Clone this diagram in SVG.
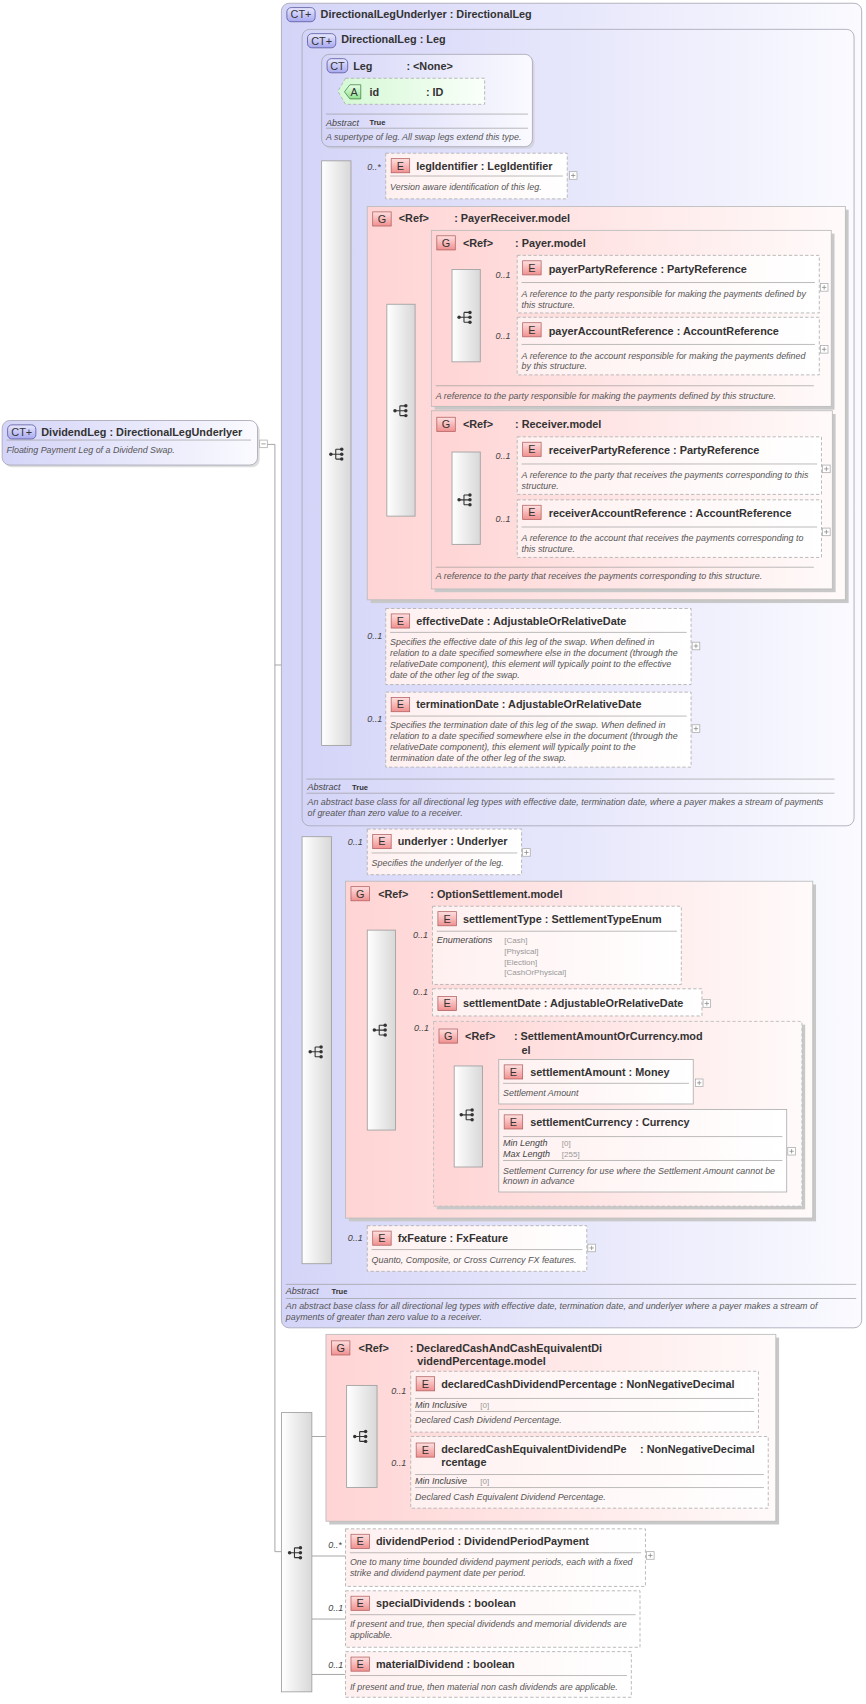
<svg xmlns="http://www.w3.org/2000/svg" xmlns:xlink="http://www.w3.org/1999/xlink" width="866" height="1704" viewBox="0 0 866 1704">
<defs>
<linearGradient id="lav" x1="0" y1="0" x2="1" y2="0"><stop offset="0" stop-color="#d4d4f8"/><stop offset="1" stop-color="#fafaff"/></linearGradient>
<linearGradient id="pink" x1="0" y1="0" x2="1" y2="0"><stop offset="0" stop-color="#ffd4d4"/><stop offset="1" stop-color="#fffafa"/></linearGradient>
<linearGradient id="elg" x1="0" y1="0" x2="1" y2="0"><stop offset="0" stop-color="#fff0f0"/><stop offset="1" stop-color="#ffffff"/></linearGradient>
<linearGradient id="grn" x1="0" y1="0" x2="1" y2="0"><stop offset="0" stop-color="#d4f8d4"/><stop offset="1" stop-color="#fafffa"/></linearGradient>
<linearGradient id="gry" x1="0" y1="0" x2="1" y2="0"><stop offset="0" stop-color="#ffffff"/><stop offset="1" stop-color="#d8d8d8"/></linearGradient>
<linearGradient id="badE" x1="0" y1="0" x2="0" y2="1"><stop offset="0" stop-color="#ffe0e0"/><stop offset="1" stop-color="#f09090"/></linearGradient>
<linearGradient id="badC" x1="0" y1="0" x2="0" y2="1"><stop offset="0" stop-color="#e8e8ff"/><stop offset="1" stop-color="#a8a8f0"/></linearGradient>
<linearGradient id="badA" x1="0" y1="0" x2="0" y2="1"><stop offset="0" stop-color="#e8ffe8"/><stop offset="1" stop-color="#90e090"/></linearGradient>
<symbol id="seq" viewBox="0 0 16 12" overflow="visible">
<circle cx="1.5" cy="6" r="1.6" fill="#333"/><path d="M1.5 6H6M6 1.5V10.5M6 1.5H11M6 6H11M6 10.5H11" stroke="#333" fill="none" stroke-width="1"/>
<circle cx="11.5" cy="1.5" r="1.6" fill="#333"/><circle cx="11.5" cy="6" r="1.6" fill="#333"/><circle cx="11.5" cy="10.5" r="1.6" fill="#333"/>
</symbol>
<symbol id="plus" overflow="visible"><rect x="0" y="0" width="7" height="7" fill="#fff" stroke="#aaa" stroke-width="0.7"/><path d="M1.5 3.5H5.5M3.5 1.5V5.5" stroke="#888" stroke-width="0.7"/></symbol>
</defs>
<style>
text{font-family:"Liberation Sans",Arial,sans-serif;fill:#333}
.t{font-size:10px;font-weight:bold}
.d{font-size:8.2px;font-style:italic;fill:#555}
.m{font-size:8.3px;font-style:italic;fill:#444}
.bt{font-size:10px;text-anchor:middle;fill:#333}
.k{font-size:7px;font-weight:bold}
.v{font-size:7.4px;fill:#999}
.ct{fill:url(#lav);stroke:#a8a8b8;stroke-width:0.8}
.el{fill:url(#elg);stroke:#b0b0b0;stroke-width:0.8;stroke-dasharray:3,2}
.els{fill:url(#elg);stroke:#b0b0b0;stroke-width:0.8}
.gp{fill:url(#pink);stroke:#bcbcbc;stroke-width:0.8}
.gpd{fill:url(#pink);stroke:#bcbcbc;stroke-width:0.8;stroke-dasharray:3,2}
.sh{fill:#c8c8c8}
.sq{fill:url(#gry);stroke:#a0a0a0;stroke-width:0.8}
.be{fill:url(#badE);stroke:#b06060;stroke-width:0.7}
.bc{fill:url(#badC);stroke:#6060a0;stroke-width:0.8}
.sep{stroke:#999;stroke-width:0.6}
.c{stroke:#999;stroke-width:0.8;fill:none}
</style>
<rect width="866" height="1704" fill="#fff"/>
<g transform="scale(1.0866)">
<g id="connectors">
<path class="c" d="M245 409H253V1428H259M253 612H270M270 393V967H278M270 393H287M287 84V417H296M287 84H306"/>
<path class="c" d="M323 160H355M323 377H338M323 595H355M323 671H355"/>
<path class="c" d="M382 377H397V293M382 377H397M382 293H397M382 459H397"/>
<path class="c" d="M305 785H338M305 967H318M305 1148H338"/>
<path class="c" d="M442 262H476M442 319H476M442 429H476M442 487H476"/>
<path class="c" d="M364 870H398M364 923H398M364 1025H399M364 948H338"/>
<path class="c" d="M444 996H459M444 1048H459"/>
<path class="c" d="M287 1322H300M347 1289H378M347 1357H378M287 1432H318M287 1490H318M287 1541H318"/>
<path class="c" d="M338 948H318"/>
</g>

<g id="DirectionalLegUnderlyer">
<rect class="ct" x="259" y="3" width="534" height="1219" rx="7"/>
<rect class="bc" x="264" y="7" width="26" height="13" rx="4"/><text class="bt" x="277" y="17">CT+</text>
<text class="t" x="295" y="17">DirectionalLegUnderlyer : DirectionalLeg</text>
<line class="sep" x1="263" y1="1182" x2="788" y2="1182"/>
<text class="m" x="263" y="1191">Abstract</text><text class="k" x="305" y="1191">True</text>
<line class="sep" x1="263" y1="1195" x2="788" y2="1195"/>
<text class="d" x="263" y="1205">An abstract base class for all directional leg types with effective date, termination date, and underlyer where a payer makes a stream of</text>
<text class="d" x="263" y="1215">payments of greater than zero value to a receiver.</text>
</g>

<g id="DirectionalLeg">
<rect class="ct" x="278" y="27" width="508" height="733" rx="7"/>
<rect class="bc" x="283" y="31" width="26" height="13" rx="4"/><text class="bt" x="296" y="41">CT+</text>
<text class="t" x="314" y="40">DirectionalLeg : Leg</text>
<line class="sep" x1="282" y1="717" x2="768" y2="717"/>
<text class="m" x="283" y="727">Abstract</text><text class="k" x="324" y="727">True</text>
<line class="sep" x1="282" y1="730" x2="768" y2="730"/>
<text class="d" x="283" y="741">An abstract base class for all directional leg types with effective date, termination date, where a payer makes a stream of payments</text>
<text class="d" x="283" y="751">of greater than zero value to a receiver.</text>
</g>

<g id="Leg">
<rect x="298" y="52" width="194" height="85" rx="7" class="sh" opacity="0.5"/>
<rect x="296" y="50" width="194" height="85" rx="7" fill="url(#lav)" stroke="#a8a8b8" stroke-width="0.8"/>
<rect class="bc" x="301" y="54" width="19" height="13" rx="4"/><text class="bt" x="310.5" y="64">CT</text>
<text class="t" x="325" y="64">Leg</text><text class="t" x="374" y="64">: &lt;None&gt;</text>
<line class="sep" x1="300" y1="105" x2="486" y2="105"/>
<text class="m" x="300" y="116">Abstract</text><text class="k" x="340" y="115">True</text>
<line class="sep" x1="300" y1="118" x2="486" y2="118"/>
<text class="d" x="300" y="129">A supertype of leg. All swap legs extend this type.</text>
</g>
<g id="attr-id">
<path d="M318 72H446V96H318L311 84Z" fill="url(#grn)" stroke="#b0b0b0" stroke-width="0.8" stroke-dasharray="3,2"/>
<path d="M322 78H332V91H322L317 84.5Z" fill="url(#badA)" stroke="#408040" stroke-width="0.7"/><text class="bt" x="326" y="88.5">A</text>
<text class="t" x="340" y="88">id</text><text class="t" x="392" y="88">: ID</text>
</g>

<g id="seq1"><rect class="sq" x="296" y="148" width="27" height="538"/><use href="#seq" x="303" y="412" width="16" height="12"/></g>

<g id="legIdentifier">
<text class="m" x="338" y="156">0..*</text>
<rect class="el" x="355" y="141" width="167" height="42"/>
<rect class="be" x="360" y="146" width="17" height="13"/><text class="bt" x="368.5" y="156">E</text>
<text class="t" x="383" y="156">legIdentifier : LegIdentifier</text>
<line class="sep" x1="359" y1="162" x2="518" y2="162"/>
<text class="d" x="359" y="175">Version aware identification of this leg.</text>
<use href="#plus" x="524" y="158"/>
</g>

<g id="PayerReceiver">
<rect class="sh" x="341" y="193" width="440" height="362"/>
<rect class="gp" x="338" y="190" width="440" height="362"/>
<rect class="be" x="343" y="195" width="17" height="13"/><text class="bt" x="351.5" y="205">G</text>
<text class="t" x="367" y="204">&lt;Ref&gt;</text><text class="t" x="418" y="204">: PayerReceiver.model</text>
</g>
<g id="seq-pr"><rect class="sq" x="356" y="280" width="26" height="195"/><use href="#seq" x="362" y="372" width="16" height="12"/></g>

<g id="Payer">
<rect class="sh" x="400" y="215" width="368" height="162"/>
<rect class="gp" x="397" y="212" width="368" height="162"/>
<rect class="be" x="402" y="217" width="17" height="13"/><text class="bt" x="410.5" y="227">G</text>
<text class="t" x="426" y="227">&lt;Ref&gt;</text><text class="t" x="474" y="227">: Payer.model</text>
<line class="sep" x1="401" y1="355" x2="749" y2="355"/>
<text class="d" x="401" y="367">A reference to the party responsible for making the payments defined by this structure.</text>
</g>
<g id="seq-payer"><rect class="sq" x="416" y="248" width="26" height="85"/><use href="#seq" x="421" y="286" width="16" height="12"/></g>
<g id="payerPartyReference">
<text class="m" x="456" y="256">0..1</text>
<rect class="el" x="476" y="235" width="278" height="53"/>
<rect class="be" x="481" y="240" width="17" height="13"/><text class="bt" x="489.5" y="250">E</text>
<text class="t" x="505" y="251">payerPartyReference : PartyReference</text>
<line class="sep" x1="480" y1="260" x2="750" y2="260"/>
<text class="d" x="480" y="273">A reference to the party responsible for making the payments defined by</text>
<text class="d" x="480" y="283">this structure.</text>
<use href="#plus" x="755" y="261"/>
</g>
<g id="payerAccountReference">
<text class="m" x="456" y="312">0..1</text>
<rect class="el" x="476" y="292" width="278" height="53"/>
<rect class="be" x="481" y="297" width="17" height="13"/><text class="bt" x="489.5" y="307">E</text>
<text class="t" x="505" y="308">payerAccountReference : AccountReference</text>
<line class="sep" x1="480" y1="317" x2="750" y2="317"/>
<text class="d" x="480" y="330">A reference to the account responsible for making the payments defined</text>
<text class="d" x="480" y="340">by this structure.</text>
<use href="#plus" x="755" y="318"/>
</g>

<g id="Receiver">
<rect class="sh" x="400" y="381" width="369" height="164"/>
<rect class="gp" x="397" y="378" width="369" height="164"/>
<rect class="be" x="402" y="384" width="17" height="13"/><text class="bt" x="410.5" y="394">G</text>
<text class="t" x="426" y="394">&lt;Ref&gt;</text><text class="t" x="474" y="394">: Receiver.model</text>
<line class="sep" x1="401" y1="522" x2="749" y2="522"/>
<text class="d" x="401" y="533">A reference to the party that receives the payments corresponding to this structure.</text>
</g>
<g id="seq-receiver"><rect class="sq" x="416" y="416" width="26" height="85"/><use href="#seq" x="421" y="454" width="16" height="12"/></g>
<g id="receiverPartyReference">
<text class="m" x="456" y="422">0..1</text>
<rect class="el" x="476" y="402" width="280" height="53"/>
<rect class="be" x="481" y="407" width="17" height="13"/><text class="bt" x="489.5" y="417">E</text>
<text class="t" x="505" y="418">receiverPartyReference : PartyReference</text>
<line class="sep" x1="480" y1="427" x2="752" y2="427"/>
<text class="d" x="480" y="440">A reference to the party that receives the payments corresponding to this</text>
<text class="d" x="480" y="450">structure.</text>
<use href="#plus" x="757" y="428"/>
</g>
<g id="receiverAccountReference">
<text class="m" x="456" y="480">0..1</text>
<rect class="el" x="476" y="460" width="280" height="53"/>
<rect class="be" x="481" y="465" width="17" height="13"/><text class="bt" x="489.5" y="475">E</text>
<text class="t" x="505" y="476">receiverAccountReference : AccountReference</text>
<line class="sep" x1="480" y1="485" x2="752" y2="485"/>
<text class="d" x="480" y="498">A reference to the account that receives the payments corresponding to</text>
<text class="d" x="480" y="508">this structure.</text>
<use href="#plus" x="757" y="486"/>
</g>

<g id="effectiveDate">
<text class="m" x="338" y="588">0..1</text>
<rect class="el" x="355" y="560" width="281" height="70"/>
<rect class="be" x="360" y="565" width="17" height="13"/><text class="bt" x="368.5" y="575">E</text>
<text class="t" x="383" y="575">effectiveDate : AdjustableOrRelativeDate</text>
<line class="sep" x1="359" y1="582" x2="632" y2="582"/>
<text class="d" x="359" y="594">Specifies the effective date of this leg of the swap. When defined in</text>
<text class="d" x="359" y="604">relation to a date specified somewhere else in the document (through the</text>
<text class="d" x="359" y="614">relativeDate component), this element will typically point to the effective</text>
<text class="d" x="359" y="624">date of the other leg of the swap.</text>
<use href="#plus" x="637" y="591"/>
</g>
<g id="terminationDate">
<text class="m" x="338" y="664">0..1</text>
<rect class="el" x="355" y="637" width="281" height="69"/>
<rect class="be" x="360" y="642" width="17" height="13"/><text class="bt" x="368.5" y="652">E</text>
<text class="t" x="383" y="652">terminationDate : AdjustableOrRelativeDate</text>
<line class="sep" x1="359" y1="659" x2="632" y2="659"/>
<text class="d" x="359" y="670">Specifies the termination date of this leg of the swap. When defined in</text>
<text class="d" x="359" y="680">relation to a date specified somewhere else in the document (through the</text>
<text class="d" x="359" y="690">relativeDate component), this element will typically point to the</text>
<text class="d" x="359" y="700">termination date of the other leg of the swap.</text>
<use href="#plus" x="637" y="667"/>
</g>

<g id="seq2"><rect class="sq" x="278" y="770" width="27" height="393"/><use href="#seq" x="284" y="962" width="16" height="12"/></g>

<g id="underlyer">
<text class="m" x="320" y="778">0..1</text>
<rect class="el" x="338" y="763" width="142" height="42"/>
<rect class="be" x="343" y="768" width="17" height="13"/><text class="bt" x="351.5" y="778">E</text>
<text class="t" x="366" y="778">underlyer : Underlyer</text>
<line class="sep" x1="342" y1="785" x2="476" y2="785"/>
<text class="d" x="342" y="797">Specifies the underlyer of the leg.</text>
<use href="#plus" x="481" y="781"/>
</g>

<g id="OptionSettlement">
<rect class="sh" x="321" y="814" width="430" height="310"/>
<rect class="gp" x="318" y="811" width="430" height="310"/>
<rect class="be" x="323" y="816" width="17" height="13"/><text class="bt" x="331.5" y="826">G</text>
<text class="t" x="348" y="826">&lt;Ref&gt;</text><text class="t" x="396" y="826">: OptionSettlement.model</text>
</g>
<g id="seq-os"><rect class="sq" x="338" y="856" width="26" height="184"/><use href="#seq" x="343" y="942" width="16" height="12"/></g>
<g id="settlementType">
<text class="m" x="380" y="863">0..1</text>
<rect class="el" x="398" y="834" width="229" height="72"/>
<rect class="be" x="403" y="839" width="17" height="13"/><text class="bt" x="411.5" y="849">E</text>
<text class="t" x="426" y="849">settlementType : SettlementTypeEnum</text>
<line class="sep" x1="402" y1="857" x2="623" y2="857"/>
<text class="m" x="402" y="868" font-size="7.8px">Enumerations</text>
<text class="v" x="464" y="868">[Cash]</text>
<text class="v" x="464" y="878">[Physical]</text>
<text class="v" x="464" y="888">[Election]</text>
<text class="v" x="464" y="897">[CashOrPhysical]</text>
</g>
<g id="settlementDate">
<text class="m" x="380" y="916">0..1</text>
<rect class="el" x="398" y="910" width="248" height="25"/>
<rect class="be" x="403" y="917" width="17" height="13"/><text class="bt" x="411.5" y="927">E</text>
<text class="t" x="426" y="927">settlementDate : AdjustableOrRelativeDate</text>
<use href="#plus" x="647" y="920"/>
</g>
<g id="SettlementAmountOrCurrency">
<text class="m" x="381" y="949">0..1</text>
<rect class="sh" x="402" y="943" width="339" height="170"/>
<rect class="gpd" x="399" y="940" width="339" height="170"/>
<rect class="be" x="404" y="947" width="17" height="13"/><text class="bt" x="412.5" y="957">G</text>
<text class="t" x="428" y="957">&lt;Ref&gt;</text><text class="t" x="473" y="957">: SettlementAmountOrCurrency.mod</text>
<text class="t" x="480" y="970">el</text>
</g>
<g id="seq-sac"><rect class="sq" x="418" y="981" width="26" height="93"/><use href="#seq" x="423" y="1020" width="16" height="12"/></g>
<g id="settlementAmount">
<rect class="els" x="459" y="975" width="179" height="41"/>
<rect class="be" x="464" y="980" width="17" height="13"/><text class="bt" x="472.5" y="990">E</text>
<text class="t" x="488" y="990">settlementAmount : Money</text>
<line class="sep" x1="463" y1="997" x2="634" y2="997"/>
<text class="d" x="463" y="1009">Settlement Amount</text>
<use href="#plus" x="640" y="993"/>
</g>
<g id="settlementCurrency">
<rect class="els" x="459" y="1021" width="265" height="76"/>
<rect class="be" x="464" y="1026" width="17" height="13"/><text class="bt" x="472.5" y="1036">E</text>
<text class="t" x="488" y="1036">settlementCurrency : Currency</text>
<line class="sep" x1="463" y1="1046" x2="720" y2="1046"/>
<text class="m" x="463" y="1055" font-size="7.8px">Min Length</text><text class="v" x="517" y="1055">[0]</text>
<text class="m" x="463" y="1065" font-size="7.8px">Max Length</text><text class="v" x="517" y="1065">[255]</text>
<line class="sep" x1="463" y1="1068" x2="720" y2="1068"/>
<text class="d" x="463" y="1080">Settlement Currency for use where the Settlement Amount cannot be</text>
<text class="d" x="463" y="1090">known in advance</text>
<use href="#plus" x="725" y="1056"/>
</g>

<g id="fxFeature">
<text class="m" x="320" y="1142">0..1</text>
<rect class="el" x="338" y="1128" width="202" height="42"/>
<rect class="be" x="343" y="1133" width="17" height="13"/><text class="bt" x="351.5" y="1143">E</text>
<text class="t" x="366" y="1143">fxFeature : FxFeature</text>
<line class="sep" x1="342" y1="1150" x2="536" y2="1150"/>
<text class="d" x="342" y="1162">Quanto, Composite, or Cross Currency FX features.</text>
<use href="#plus" x="541" y="1145"/>
</g>

<g id="DividendLeg">
<rect class="sh" x="4" y="389" width="235" height="41" rx="7" opacity="0.6"/>
<rect class="ct" x="2" y="387" width="235" height="41" rx="7"/>
<rect class="bc" x="7" y="391" width="26" height="13" rx="4"/><text class="bt" x="20" y="401">CT+</text>
<text class="t" x="38" y="401">DividendLeg : DirectionalLegUnderlyer</text>
<line class="sep" x1="6" y1="405" x2="231" y2="405"/>
<text class="d" x="6" y="417">Floating Payment Leg of a Dividend Swap.</text>
<rect x="239" y="405" width="7" height="7" fill="#fff" stroke="#aaa" stroke-width="0.7"/><path d="M240.5 408.5H244.5" stroke="#888" stroke-width="0.7"/>
</g>

<g id="seq3"><rect class="sq" x="259" y="1300" width="28" height="257"/><use href="#seq" x="265" y="1423" width="16" height="12"/></g>

<g id="DeclaredCash">
<rect class="sh" x="303" y="1231" width="414" height="172"/>
<rect class="gp" x="300" y="1228" width="414" height="172"/>
<rect class="be" x="305" y="1234" width="17" height="13"/><text class="bt" x="313.5" y="1244">G</text>
<text class="t" x="330" y="1244">&lt;Ref&gt;</text><text class="t" x="377" y="1244">: DeclaredCashAndCashEquivalentDi</text>
<text class="t" x="384" y="1256">videndPercentage.model</text>
</g>
<g id="seq-dc"><rect class="sq" x="319" y="1275" width="28" height="94"/><use href="#seq" x="325" y="1316" width="16" height="12"/></g>
<g id="declaredCashDividendPercentage">
<text class="m" x="360" y="1283">0..1</text>
<rect class="el" x="378" y="1262" width="320" height="56"/>
<rect class="be" x="383" y="1267" width="17" height="13"/><text class="bt" x="391.5" y="1277">E</text>
<text class="t" x="406" y="1277">declaredCashDividendPercentage : NonNegativeDecimal</text>
<line class="sep" x1="382" y1="1287" x2="694" y2="1287"/>
<text class="m" x="382" y="1296" font-size="7.8px">Min Inclusive</text><text class="v" x="442" y="1296">[0]</text>
<line class="sep" x1="382" y1="1299" x2="694" y2="1299"/>
<text class="d" x="382" y="1310">Declared Cash Dividend Percentage.</text>
</g>
<g id="declaredCashEquivalentDividendPercentage">
<text class="m" x="360" y="1349">0..1</text>
<rect class="el" x="378" y="1322" width="329" height="66"/>
<rect class="be" x="383" y="1328" width="17" height="13"/><text class="bt" x="391.5" y="1338">E</text>
<text class="t" x="406" y="1337">declaredCashEquivalentDividendPe</text>
<text class="t" x="406" y="1349">rcentage</text>
<text class="t" x="589" y="1337">: NonNegativeDecimal</text>
<line class="sep" x1="382" y1="1357" x2="703" y2="1357"/>
<text class="m" x="382" y="1366" font-size="7.8px">Min Inclusive</text><text class="v" x="442" y="1366">[0]</text>
<line class="sep" x1="382" y1="1369" x2="703" y2="1369"/>
<text class="d" x="382" y="1380">Declared Cash Equivalent Dividend Percentage.</text>
</g>

<g id="dividendPeriod">
<text class="m" x="302" y="1425">0..*</text>
<rect class="el" x="318" y="1407" width="276" height="53"/>
<rect class="be" x="323" y="1412" width="17" height="13"/><text class="bt" x="331.5" y="1422">E</text>
<text class="t" x="346" y="1422">dividendPeriod : DividendPeriodPayment</text>
<line class="sep" x1="322" y1="1429" x2="590" y2="1429"/>
<text class="d" x="322" y="1440">One to many time bounded dividend payment periods, each with a fixed</text>
<text class="d" x="322" y="1450">strike and dividend payment date per period.</text>
<use href="#plus" x="595" y="1428"/>
</g>
<g id="specialDividends">
<text class="m" x="302" y="1483">0..1</text>
<rect class="el" x="318" y="1464" width="271" height="52"/>
<rect class="be" x="323" y="1469" width="17" height="13"/><text class="bt" x="331.5" y="1479">E</text>
<text class="t" x="346" y="1479">specialDividends : boolean</text>
<line class="sep" x1="322" y1="1486" x2="585" y2="1486"/>
<text class="d" x="322" y="1497">If present and true, then special dividends and memorial dividends are</text>
<text class="d" x="322" y="1507">applicable.</text>
</g>
<g id="materialDividend">
<text class="m" x="302" y="1535">0..1</text>
<rect class="el" x="318" y="1520" width="263" height="42"/>
<rect class="be" x="323" y="1525" width="17" height="13"/><text class="bt" x="331.5" y="1535">E</text>
<text class="t" x="346" y="1535">materialDividend : boolean</text>
<line class="sep" x1="322" y1="1542" x2="577" y2="1542"/>
<text class="d" x="322" y="1555">If present and true, then material non cash dividends are applicable.</text>
</g>
</g>
</svg>
